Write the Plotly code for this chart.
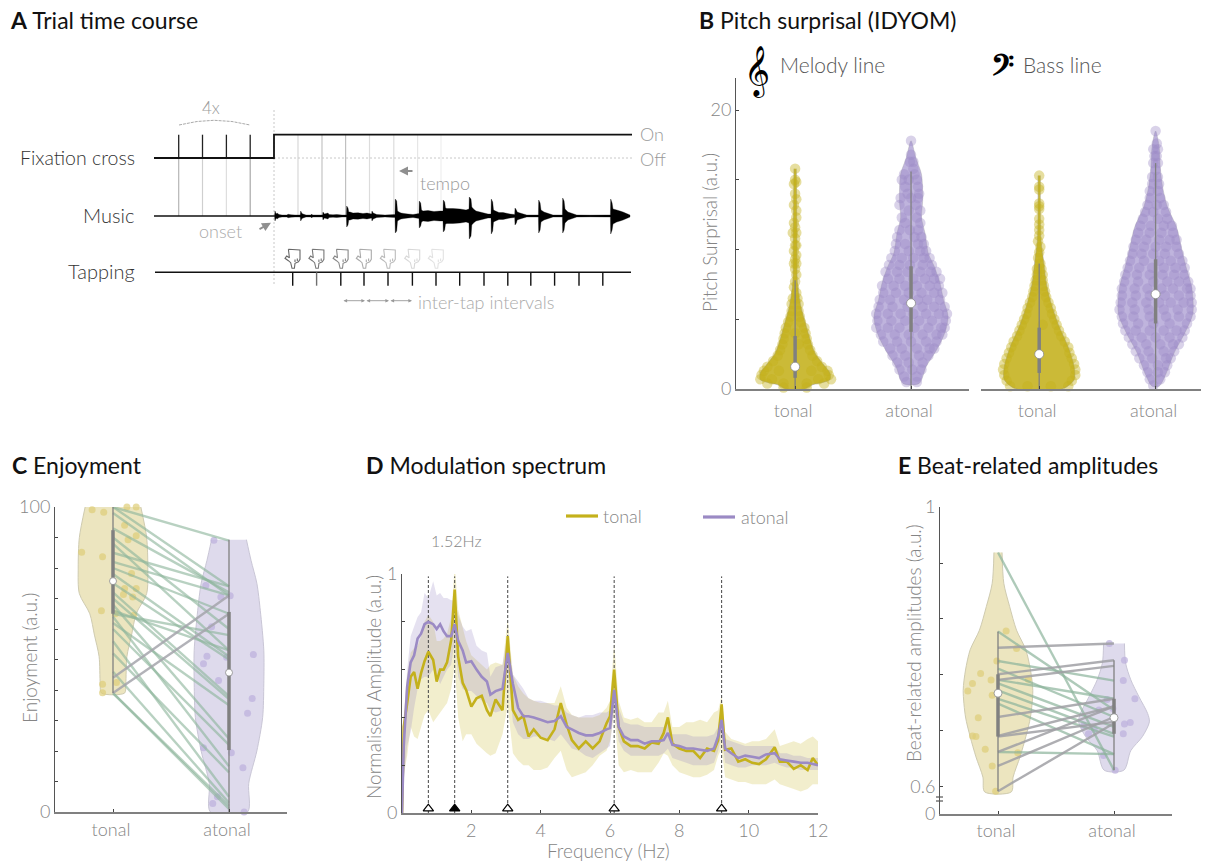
import plotly.graph_objects as go

W, H = 1213, 863
FONT = "Lato"
YEL = "#c4b11b"
PUR = "#9b8ac4"
GRAY = "#858585"
DARK = "#555555"

# ---- Panel A schematic (time on a page-wide scale)
FIX_T = [154, 274, 274, 632]
FIX_Y = [158, 158, 134.7, 134.7]
CUE_T = [178.7, 202.5, 226.4, 250.2]
CUE_COL = ["#b5b5b5", "#cfcfcf", "#dedede", "#a8a8a8"]
AFTER_T = [298, 322, 345.6, 369.5, 393.8, 417.6, 441]
AFTER_COL = ["#d8d8d8", "#c4c4c4", "#c0c0c0", "#dcdcdc", "#dcdcdc", "#e6e6e6", "#eeeeee"]
TAP_T = [292.7, 316.6, 340.8, 364, 388, 412.4, 436, 459.7, 484, 507.8, 530.8, 554.6, 579, 602.8]
HAND_T = [292.7, 316.6, 340.8, 364, 388, 412.4, 436]
HAND_COL = ["#666666", "#777777", "#888888", "#aaaaaa", "#bbbbbb", "#d8d8d8", "#e2e2e2"]
HAND_X = [-4.3, 7.3, 7.3, 5.7, 2.3, 1.7, -.7, -2, -4.3, -7.7, -6, -3.3, -4.3, None, 2.3, 2.3, None, 4.6, 4.6]
HAND_Y = [249.3, 250, 259.3, 261.7, 263.3, 268.3, 268.3, 262.7, 260.7, 258.3, 256, 257.7, 249.3, None, 262, 259.5, None, 261, 258.5]
WAVE_T = [274.6, 275, 276.2, 277, 279, 282, 287, 288, 291, 295, 300.2, 300.7, 302, 303, 306, 311, 311.7, 312.5, 318,
          322.6, 323, 324.4, 328, 329, 333, 336.7, 342, 346.4, 346.7, 348, 348.8, 350, 353, 358, 363, 367, 371.6, 372, 373.2, 376.7, 385,
          395, 395.3, 396.7, 397.5, 399, 401, 404, 408, 413, 419, 419.3, 420.7, 421.5, 423, 428, 434, 440,
          443, 443.3, 444.7, 445.5, 447, 453, 460, 466, 469, 469.3, 471, 471.8, 473.5, 476, 480, 484, 488,
          491, 491.3, 492.7, 493.5, 495.5, 499, 503, 510, 514.7, 515, 516.4, 517.2, 520, 526.7, 534,
          538.4, 538.7, 540.1, 541, 544, 553, 562.4, 562.7, 564.1, 565, 568, 576.7, 590, 606.7,
          610.4, 610.7, 612.1, 613, 616.7, 620, 623, 630]
WAVE_UP = [.8, 5, 2, 3, 1.5, 1, 1, 1.8, 1.2, 1, 1, 5, 2.5, 2, 1, 1, 2, 1, 1,
           1, 4, 2, 3, 1.5, 1.2, 1.5, 1, 1, 10, 8, 4, 4, 3, 3.2, 2.5, 3, 2, 5, 3, 1.5, 1,
           1.5, 17, 15, 5, 4, 3, 2.5, 2, 1.5, 2.5, 15, 13, 6, 5, 5.5, 4.5, 5,
           5, 16, 14, 8, 7.5, 7.5, 7, 6, 7, 19, 17, 9, 7, 5, 4, 3, 2,
           2, 17, 14, 6, 5, 3.5, 3.5, 2, 1.5, 8, 6, 4, 3, 1, 1,
           1, 16, 13, 6, 4, 1, 1, 18, 15, 7, 4, 1, .8, 1,
           1, 17, 13, 7, 6, 5, 4, 1]
WAVE_DN = [.8, 5, 2, 3, 1.5, 1, 1, 1.8, 1.2, 1, 1, 5, 2.5, 2, 1, 1, 2, 1, 1,
           1, 4, 2, 3, 1.5, 1.2, 1.5, 1, 1, 11, 9, 4, 4, 3, 3.2, 2.5, 3, 2, 5, 3, 1.5, 1,
           1.5, 17, 15, 5, 4, 3, 2.5, 2, 1.5, 2.5, 12, 10, 6, 5, 5.5, 4.5, 5,
           5, 16, 14, 8, 7.5, 7.5, 7, 6, 7, 23, 20, 9, 7, 5, 4, 3, 2,
           2, 18, 15, 6, 5, 3.5, 3.5, 2, 1.5, 9, 7, 4, 3, 1, 1,
           1, 17, 14, 6, 4, 1, 1, 17, 14, 7, 4, 1, .8, 1,
           1, 18, 14, 8, 6, 5, 4, 1]

# ---- Panel B: pitch surprisal
CATS = ["tonal", "atonal"]
MEL_TON_BOX = [0, 0.8, 1.6, 3.8, 7.8]
MEL_ATO_BOX = [0, 4.1, 6.15, 8.8, 15.6]
BAS_TON_BOX = [0, 1.15, 2.5, 4.4, 9.0]
BAS_ATO_BOX = [0, 4.7, 6.8, 9.3, 16.2]
MEL_TON_ENV = [(15.8, .01), (11.2, .015), (7.6, .02), (5.9, .05), (4.7, .09), (3.8, .12), (2.6, .17), (1.7, .25), (1.15, .3), (.67, .3), (.3, .15), (0, .08)]
MEL_ATO_ENV = [(17.8, 0), (16.6, .04), (15.4, .09), (13.5, .1), (12.3, .09), (11.2, .12), (9.7, .15), (8.8, .2), (7.6, .25), (6.4, .28), (5.2, .32), (4, .29), (2.8, .22), (1.6, .13), (.4, .07)]
BAS_TON_ENV = [(15.3, .01), (10.7, .015), (9, .04), (7.6, .06), (6.2, .1), (4.5, .17), (3, .25), (1.6, .3), (.67, .3), (0, .2)]
BAS_ATO_ENV = [(18.5, 0), (17.4, .03), (15.9, .04), (14.5, .06), (13.1, .1), (11.6, .18), (10.2, .22), (8.8, .26), (7.3, .31), (5.4, .32), (4, .25), (2.6, .16), (1.1, .09), (.2, .03)]
MEL_TON_PTS = [(15.8, [0]), (15.0, [0]), (14.85, [.01]), (14.7, [-.01]), (14.0, [0]), (13.6, [.01]), (13.2, [-.01]), (12.8, [.01]), (12.3, [.01]),
               (11.9, [-.01]), (11.6, [0]), (11.2, [-.02, .01]), (10.8, [0]), (10.3, [0, .01]), (9.9, [-.01]), (9.6, [.01]), (9.3, [0]), (9.0, [-.01, .01]),
               (8.6, [0]), (8.2, [.01]), (7.7, [0]), (7.3, [-.01]), (6.9, [.01]), (6.5, [-.02, .02]), (6.1, [-.03, .03]), (5.6, [-.03, .03]), (5.2, [-.04, .04]),
               (4.8, [-.06, .05]), (4.4, [-.08, .08]), (4.0, [-.09, 0, .09]), (3.6, [-.1, .1]), (3.2, [-.11, .03, .11]), (2.8, [-.13, .13]), (2.4, [-.15, .15]),
               (2.0, [-.19, .19]), (1.6, [-.24, .23]), (1.3, [-.27, -.14, .14, .28]), (1.0, [-.29, .29]), (.7, [-.3, -.2, .2, .31]), (.4, [-.24, -.1, .1, .25]), (.1, [-.1, .1])]
MEL_ATO_PTS = [(17.8, [0]), (16.8, [0]), (16.3, [-.01, .02]), (15.8, [.02]), (15.4, [-.06, .03]), (15.0, [-.08, -.02, .05]), (14.5, [-.05, .06]), (14.0, [-.03, .07]),
               (13.7, [-.09, 0, .06]), (13.2, [-.1, .04]), (12.8, [-.02, .08]), (12.3, [-.08, .05]), (11.9, [-.05, .08]), (11.4, [-.1, -.01, .06]), (10.9, [-.12, .03, .09]),
               (10.4, [-.13, -.05, .06, .11]), (9.9, [-.14, -.02, .08, .13]), (9.4, [-.17, -.08, .02, .11, .16]), (8.9, [-.19, -.1, -.01, .1, .18]),
               (8.4, [-.22, -.12, -.03, .08, .17, .22]), (7.9, [-.2, -.1, .02, .12, .2, .25]), (7.4, [-.25, -.15, -.05, .05, .16, .24]), (6.9, [-.24, -.13, -.02, .09, .2, .27]),
               (6.4, [-.27, -.18, -.06, .06, .14, .25]), (5.9, [-.28, -.16, -.03, .1, .2, .29]), (5.4, [-.3, -.2, -.09, .02, .13, .24, .31]), (4.9, [-.29, -.17, -.05, .07, .18, .3]),
               (4.4, [-.3, -.2, -.1, .03, .15, .26, .29]), (3.9, [-.26, -.14, -.02, .1, .22, .27]), (3.4, [-.24, -.12, 0, .13, .22]), (2.9, [-.18, -.08, .05, .16, .2]),
               (2.4, [-.16, -.05, .07, .15]), (1.9, [-.12, -.02, .1]), (1.4, [-.1, .01, .09]), (.9, [-.06, .05]), (.5, [-.04, .05])]
BAS_TON_PTS = [(15.3, [0]), (14.5, [0]), (14.3, [0]), (13.3, [0]), (13.1, [0]), (12.9, [0]), (12.2, [0]), (11.8, [0]), (11.4, [0]), (11, [0]), (10.6, [-.01]), (10.2, [.01]),
               (9.8, [0]), (9.4, [-.01]), (9, [.01]), (8.6, [-.02, .02]), (8.2, [-.02, .03]), (7.8, [-.03, .03]), (7.4, [-.04, .04]), (7, [-.05, .05]), (6.6, [-.06, .06]),
               (6.2, [-.08, .08]), (5.8, [-.1, .1]), (5.4, [-.11, .11]), (5, [-.13, .13]), (4.6, [-.15, .03, .15]), (4.2, [-.17, .17]), (3.8, [-.19, .19]), (3.4, [-.22, .22]),
               (3, [-.24, .25]), (2.6, [-.26, .26]), (2.2, [-.28, .28]), (1.8, [-.3, .3]), (1.4, [-.31, .31]), (1, [-.3, .31]), (.6, [-.28, .28]), (.2, [-.25, -.1, .1, .25]),
               (-.1, [-.15, -.05, .1, .2])]
BAS_ATO_PTS = [(18.5, [0]), (17.6, [.01]), (17.2, [-.02, .02]), (16.7, [-.01, .01]), (16.2, [-.02, .02]), (15.7, [0]), (15.2, [-.03, .02]), (14.7, [-.03, .03]), (14.2, [-.05, .02]),
               (13.7, [-.05, .04]), (13.2, [-.07, .01, .07]), (12.7, [-.09, -.02, .09]), (12.2, [-.11, .02, .1]), (11.7, [-.13, -.04, .07, .14]), (11.2, [-.15, -.05, .05, .15]),
               (10.7, [-.17, -.08, .03, .12, .18]), (10.2, [-.19, -.1, 0, .09, .18]), (9.7, [-.2, -.12, -.02, .08, .2]), (9.2, [-.22, -.1, .03, .13, .23]),
               (8.7, [-.24, -.14, -.03, .07, .17, .25]), (8.2, [-.26, -.16, -.05, .06, .16, .25]), (7.7, [-.27, -.15, -.02, .1, .2, .28]), (7.2, [-.29, -.18, -.07, .05, .15, .27, .3]),
               (6.7, [-.29, -.17, -.05, .08, .2, .3]), (6.2, [-.3, -.2, -.08, .03, .13, .24, .31]), (5.7, [-.31, -.18, -.06, .07, .19, .31]), (5.2, [-.29, -.19, -.05, .09, .2, .3]),
               (4.7, [-.28, -.15, -.02, .12, .27]), (4.2, [-.26, -.17, -.05, .07, .18, .25]), (3.7, [-.23, -.12, 0, .12, .23]), (3.2, [-.2, -.08, .04, .15, .2]),
               (2.7, [-.17, -.06, .07, .16]), (2.2, [-.14, -.03, .09, .13]), (1.7, [-.1, .02, .1]), (1.2, [-.07, .02, .08]), (.7, [-.05, .04]), (.25, [-.02])]

# ---- Panel C: enjoyment
ENJ_TON_X = [.82, .92, 1.12, 1.20, 1.10, 1.20, 1.13, .73, .91, 1.16, 1.10, 1.20, 1.09, 1.17, .90, 1.02, 1.18, .91, 1.03, .91]
ENJ_TON_Y = [99.1, 98.3, 100, 100, 94, 90.6, 89.3, 85.2, 83.7, 78.2, 73.3, 73.3, 71.3, 70.5, 66, 65, 64.5, 41.9, 42.5, 39.1]
ENJ_ATO_X = [1.87, 1.80, 1.93, 2.01, 1.85, 1.81, 1.78, 2.21, 1.98, 1.91, 2.20, 2.16, 1.78, 2.02, 2.12, 1.90, 1.86, 2.13]
ENJ_ATO_Y = [89.1, 74.3, 70.5, 70.9, 60.7, 51.1, 48.6, 51.6, 50.7, 43.1, 37.2, 32.4, 21.1, 19.4, 14.5, 5, 2.8, 0]
ENJ_DOWN_T = [100, 100, 98, 93, 90, 88, 85, 82, 80, 78, 75, 72, 70, 68, 66, 65, 64, 62, 60, 56, 52, 46, 39, 39]
ENJ_DOWN_A = [89, 74, 71, 72, 60, 53, 74, 71, 65, 51, 50, 38, 37, 24, 53, 58, 15, 35, 22, 5, 13, 3, 2, 1]
ENJ_UP_T = [44, 39]
ENJ_UP_A = [71, 65]
ENJ_TON_ENV = [(100, .24), (90, .29), (80, .30), (71.6, .29), (65, .2), (58, .16), (51, .12), (42, .11), (39, .10)]
ENJ_ATO_ENV = [(89.3, .15), (82.5, .19), (75, .24), (66, .27), (53, .30), (42, .30), (31, .29), (20, .24), (9.4, .17), (0, .16)]
ENJ_TON_BOX = [39, 65, 75.7, 92.4, 100]
ENJ_ATO_BOX = [0, 20.3, 45.7, 65.6, 89.3]

# ---- Panel D: modulation spectrum
FREQ = [0, .05, .15, .25, .35, .45, .55, .65, .76, .9, 1.0, 1.1, 1.2, 1.3, 1.42, 1.52, 1.62, 1.75, 1.85, 2.0, 2.15, 2.3, 2.45, 2.55, 2.7, 2.9, 3.05, 3.2, 3.35, 3.5,
        3.65, 3.8, 4.0, 4.2, 4.4, 4.58, 4.75, 4.9, 5.1, 5.3, 5.5, 5.7, 5.9, 6.0, 6.12, 6.25, 6.4, 6.6, 6.8, 7.0, 7.2, 7.4, 7.55, 7.67, 7.8, 8.0, 8.2, 8.4, 8.6, 8.8,
        9.0, 9.12, 9.22, 9.32, 9.5, 9.7, 9.9, 10.1, 10.3, 10.5, 10.75, 10.9, 11.1, 11.3, 11.5, 11.7, 11.85, 12]
ATO_M = [0, .28, .53, .63, .66, .73, .75, .79, .80, .79, .77, .79, .76, .74, .74, .79, .72, .68, .63, .635, .60, .57, .55, .495, .51, .52, .67, .54, .44, .405,
         .405, .40, .39, .38, .385, .405, .36, .35, .335, .325, .325, .335, .35, .355, .515, .36, .32, .305, .305, .29, .30, .30, .305, .335, .285, .28, .27, .27, .265, .26,
         .27, .32, .39, .27, .25, .23, .24, .235, .23, .245, .25, .225, .22, .215, .21, .21, .205, .20]
TON_M = [0, .36, .46, .57, .59, .52, .585, .635, .675, .64, .55, .60, .60, .63, .725, .935, .655, .545, .515, .445, .48, .49, .43, .405, .475, .43, .74, .43, .39, .405,
         .32, .35, .315, .305, .35, .46, .37, .305, .27, .30, .27, .30, .375, .405, .60, .36, .30, .28, .28, .27, .295, .29, .335, .40, .29, .27, .26, .26, .23, .27,
         .26, .305, .455, .265, .27, .215, .225, .21, .205, .225, .275, .215, .215, .185, .20, .18, .23, .20]
ATO_U = [0, .40, .60, .74, .78, .82, .84, .92, .90, .97, .91, .92, .90, .90, .89, .89, .83, .78, .76, .77, .70, .68, .67, .57, .61, .62, .75, .58, .55, .52,
         .48, .47, .47, .46, .45, .45, .42, .41, .40, .41, .41, .42, .42, .43, .59, .44, .38, .37, .37, .36, .36, .36, .36, .38, .33, .33, .33, .32, .32, .32,
         .33, .36, .45, .31, .30, .29, .28, .28, .28, .28, .28, .25, .25, .24, .24, .23, .23, .23]
ATO_L = [0, .14, .28, .34, .44, .52, .56, .57, .57, .60, .58, .54, .57, .60, .62, .72, .57, .52, .51, .51, .49, .47, .46, .43, .42, .43, .60, .38, .33, .31,
         .31, .32, .32, .31, .30, .33, .30, .27, .26, .24, .23, .25, .27, .28, .44, .30, .26, .24, .24, .24, .24, .24, .25, .27, .23, .22, .21, .20, .20, .20,
         .21, .26, .33, .21, .20, .19, .19, .20, .20, .20, .21, .20, .19, .19, .18, .18, .18, .18]
TON_U = [0, .40, .58, .67, .69, .70, .74, .80, .83, .80, .72, .72, .73, .75, .82, 1.04, .85, .78, .72, .66, .64, .62, .60, .62, .63, .62, .81, .58, .53, .50,
         .48, .47, .46, .46, .46, .53, .44, .41, .40, .40, .40, .41, .44, .47, .71, .47, .40, .39, .40, .38, .38, .42, .42, .47, .36, .36, .38, .38, .39, .38,
         .42, .43, .49, .34, .31, .30, .29, .30, .30, .31, .35, .28, .29, .30, .29, .31, .32, .30]
TON_L = [0, .16, .24, .36, .32, .31, .36, .41, .43, .38, .40, .42, .44, .46, .52, .62, .40, .30, .33, .33, .29, .27, .25, .24, .25, .33, .45, .25, .22, .20,
         .20, .18, .18, .19, .23, .26, .18, .15, .16, .17, .20, .24, .26, .30, .42, .20, .17, .18, .17, .17, .17, .21, .25, .24, .20, .17, .16, .15, .15, .16,
         .18, .24, .27, .15, .14, .13, .13, .12, .12, .12, .14, .12, .11, .10, .09, .10, .12, .12]
BEAT_F = [.76, 1.52, 3.05, 6.12, 9.22]
BEAT_FILL = ["white", "black", "white", "white", "white"]

# ---- Panel E: beat-related amplitudes
BR_TON_X = [1.07, 1.16, .99, .85, .78, .94, 1.26, .74, .95, .83, .78, .81, .89, 1.17, .95, .98]
BR_TON_Y = [.823, .798, .780, .762, .748, .753, .754, .737, .731, .699, .673, .672, .654, .649, .630, .594]
BR_ATO_X = [1.96, 2.09, 2.08, 1.94, 2.18, 1.87, 1.99, 1.74, 2.09, 2.14, 2.08, 1.78, 1.83, 1.91, 2.01]
BR_ATO_Y = [.805, .781, .752, .725, .726, .710, .712, .688, .690, .692, .676, .676, .682, .645, .624]
BR_DOWN_T = [.935, .822, .780, .769, .753, .748, .738, .726, .719, .650]
BR_DOWN_A = [.624, .710, .752, .700, .726, .686, .676, .672, .647, .647]
BR_UP_T = [.799, .761, .753, .700, .672, .673, .650, .630, .594]
BR_UP_A = [.805, .781, .773, .726, .693, .715, .715, .700, .691]
BR_TON_ENV = [(.935, .035), (.891, .05), (.858, .10), (.824, .16), (.796, .24), (.767, .28), (.738, .30), (.700, .28), (.672, .24), (.643, .19), (.614, .13), (.593, .115)]
BR_ATO_ENV = [(.805, .09), (.777, .10), (.753, .145), (.729, .215), (.705, .29), (.693, .305), (.672, .245), (.652, .145), (.624, .085)]
BR_TON_BOX = [.594, .672, .734, .761, .822]
BR_ATO_BOX = [.624, .676, .699, .726, .781]
BR_ZERO = 0.5614


def dom_x(a, b):
    return [a / W, b / W]


def dom_y(top, bot):
    return [1 - bot / H, 1 - top / H]


fig = go.Figure()


def line(x, y, color, width=1, dash=None, ax=("x", "y")):
    fig.add_trace(go.Scatter(x=x, y=y, mode="lines", xaxis=ax[0], yaxis=ax[1], cliponaxis=False, hoverinfo="skip",
                             line=dict(color=color, width=width, dash=dash, simplify=False)))


def violin(center, env, fill, edge, ax):
    xs = [center - hw for _, hw in env] + [center + hw for _, hw in reversed(env)]
    ys = [v for v, _ in env] + [v for v, _ in reversed(env)]
    fig.add_trace(go.Scatter(x=xs, y=ys, mode="lines", fill="toself", fillcolor=fill, xaxis=ax[0], yaxis=ax[1], cliponaxis=False,
                             hoverinfo="skip", line=dict(color=edge, width=1, shape="spline", smoothing=0.8)))


def dots(x, y, color, size, ax):
    fig.add_trace(go.Scatter(x=x, y=y, mode="markers", xaxis=ax[0], yaxis=ax[1], cliponaxis=False, hoverinfo="skip",
                             marker=dict(color=color, size=size, line=dict(width=0))))


def swarm(center, rows, color, size, ax):
    xs, ys = [], []
    for v, offs in rows:
        for o in offs:
            xs.append(center + o)
            ys.append(v)
    dots(xs, ys, color, size, ax)


def box(center, stats, ax, dot=11, thick=5):
    lo, q1, med, q3, hi = stats
    line([center, center], [lo, hi], "#808080", 1.3, ax=ax)
    line([center, center], [q1, q3], "#808080", thick, ax=ax)
    fig.add_trace(go.Scatter(x=[center], y=[med], mode="markers", xaxis=ax[0], yaxis=ax[1], cliponaxis=False, hoverinfo="skip",
                             marker=dict(color="white", size=dot, line=dict(color="#8a8a8a", width=0.8))))


def pairs(t, a, color, ax, width=2.4):
    for p, q in zip(t, a):
        line([1, 2], [p, q], color, width, ax=ax)


# ---------- Panel A ----------
for t, c in zip(CUE_T, CUE_COL):
    line([t, t], [158, 216], c, 1.2)
    line([t, t], [134.7, 158], "#222222", 1.3)
for t, c in zip(AFTER_T, AFTER_COL):
    line([t, t], [134.7, 216], c, 1.2)
line([274, 274], [110, 286], "#c8c8c8", 1, "2px,2px")
line([274, 632], [158, 158], "#c8c8c8", 1, "2px,2px")
line(FIX_T, FIX_Y, "#111111", 1.8)
line([154, 630], [216, 216], "#111111", 1.3)
line([155, 631], [272.3, 272.3], "#111111", 1.6)
for t in TAP_T:
    line([t, t], [272.3, 285.7], "#6f6f6f" if t == TAP_T[1] else "#111111", 1.4)
fig.add_trace(go.Scatter(x=WAVE_T + WAVE_T[::-1], y=WAVE_UP + [-d for d in WAVE_DN[::-1]], mode="lines", fill="toself", fillcolor="#000000",
                         line=dict(color="#000000", width=0.3, simplify=False), xaxis="x", yaxis="y7", hoverinfo="skip"))
line([179, 197, 214, 232, 250], [125, 121.5, 120.3, 121.5, 125], "#aaaaaa", 1, "3px,1px")
for t, c in zip(HAND_T, HAND_COL):
    line([None if d is None else t + d for d in HAND_X], HAND_Y, c, 1.1)

# ---------- Panel B ----------
B1 = ("x2", "y2")
B2 = ("x3", "y3")
PUR_F = "rgba(170,155,210,0.75)"
PUR_D = "rgba(155,138,196,0.38)"
YEL_D = "rgba(196,177,27,0.42)"
YEL_F = "rgba(196,177,27,0.88)"
violin(1, MEL_TON_ENV, YEL_F, "rgba(150,150,150,.5)", B1)
violin(2, MEL_ATO_ENV, PUR_F, "rgba(150,150,150,.3)", B1)
violin(1, BAS_TON_ENV, YEL_F, "rgba(150,150,150,.5)", B2)
violin(2, BAS_ATO_ENV, PUR_F, "rgba(150,150,150,.3)", B2)
swarm(1, MEL_TON_PTS, YEL_D, 10.5, B1)
swarm(2, MEL_ATO_PTS, PUR_D, 10.5, B1)
swarm(1, BAS_TON_PTS, YEL_D, 10.5, B2)
swarm(2, BAS_ATO_PTS, PUR_D, 10.5, B2)
box(1, MEL_TON_BOX, B1, 9, 3.5)
box(2, MEL_ATO_BOX, B1, 9, 3.5)
box(1, BAS_TON_BOX, B2, 9, 3.5)
box(2, BAS_ATO_BOX, B2, 9, 3.5)

# ---------- Panel C ----------
C = ("x4", "y4")
violin(1, ENJ_TON_ENV, "#ece5bf", "#cfcbb0", C)
violin(2, ENJ_ATO_ENV, "#dedaec", "#c9c6d6", C)
dots(ENJ_TON_X, ENJ_TON_Y, "rgba(222,205,120,.7)", 7, C)
dots(ENJ_ATO_X, ENJ_ATO_Y, "rgba(190,178,222,.75)", 7, C)
pairs(ENJ_DOWN_T, ENJ_DOWN_A, "rgba(140,180,155,.62)", C)
pairs(ENJ_UP_T, ENJ_UP_A, "rgba(165,165,172,.85)", C)
box(1, ENJ_TON_BOX, C, 7, 3.5)
box(2, ENJ_ATO_BOX, C, 7, 3.5)

# ---------- Panel D ----------
D = ("x5", "y5")
for up, lo, col in ((TON_U, TON_L, "rgba(196,177,27,.22)"), (ATO_U, ATO_L, "rgba(150,135,195,.25)")):
    fig.add_trace(go.Scatter(x=FREQ + FREQ[::-1], y=up + lo[::-1], mode="lines", fill="toself", fillcolor=col, line=dict(width=0),
                             xaxis="x5", yaxis="y5", cliponaxis=False, hoverinfo="skip"))
for f in BEAT_F:
    line([f, f], [0, .99], "#444444", 1, "3px,2px", ax=D)
line(FREQ, TON_M, YEL, 2.6, ax=D)
line(FREQ, ATO_M, PUR, 2.6, ax=D)
fig.add_trace(go.Scatter(x=BEAT_F, y=[0.018] * 5, mode="markers", xaxis="x5", yaxis="y5", cliponaxis=False, hoverinfo="skip",
                         marker=dict(symbol="triangle-up", color=BEAT_FILL, size=9, line=dict(color="black", width=1.2))))

# ---------- Panel E ----------
E = ("x6", "y6")
violin(1, BR_TON_ENV, "#ece5bf", "#cfcbb0", E)
violin(2, BR_ATO_ENV, "#dedaec", "#c9c6d6", E)
dots(BR_TON_X, BR_TON_Y, "rgba(222,205,120,.7)", 7, E)
dots(BR_ATO_X, BR_ATO_Y, "rgba(190,178,222,.75)", 7, E)
pairs(BR_DOWN_T, BR_DOWN_A, "rgba(140,180,155,.7)", E)
pairs(BR_UP_T, BR_UP_A, "rgba(160,160,165,.85)", E)
box(1, BR_TON_BOX, E, 8, 3.5)
box(2, BR_ATO_BOX, E, 8, 3.5)
# axis break marks on a page-wide scale
line([940, 940], [796.5, 802.5], "white", 3)
line([936, 943], [797, 797], "#333333", 1)
line([936, 943], [801, 801], "#333333", 1)

TICK = dict(family=FONT, size=18, color=GRAY, weight=300)


def cat_x(dom, rng, standoff=4):
    return dict(domain=dom, range=rng, tickvals=[1, 2], ticktext=CATS, ticks="inside", ticklen=3, tickcolor="#444444",
                showline=True, linecolor="#808080", linewidth=1.6, showgrid=False, zeroline=False,
                tickfont=TICK, ticklabelstandoff=standoff, ticklabelshift=-2)


hidden = dict(visible=False, showgrid=False, zeroline=False)
layout = dict(
    width=W, height=H, margin=dict(l=0, r=0, t=0, b=0, autoexpand=False), showlegend=False,
    paper_bgcolor="white", plot_bgcolor="rgba(0,0,0,0)", font=dict(family=FONT),
    xaxis=dict(domain=[0, 1], range=[0, W], **hidden),
    yaxis=dict(domain=[0, 1], range=[H, 0], **hidden),
    xaxis2=dict(anchor="y2", **cat_x(dom_x(736, 969), [.49, 2.5], 5)),
    yaxis2=dict(anchor="x2", domain=dom_y(78, 389), range=[0, 22.3], tickvals=[0, 5, 10, 15, 20], ticktext=["0", "", "", "", "20"],
                ticks="inside", ticklen=3, tickcolor="#444444", showline=True, linecolor=DARK, linewidth=1, showgrid=False, zeroline=False,
                tickfont=TICK),
    xaxis3=dict(anchor="y3", **cat_x(dom_x(981, 1201), [.5, 2.39], 5)),
    yaxis3=dict(anchor="x3", domain=dom_y(78, 389), range=[0, 22.3], **hidden),
    xaxis4=dict(anchor="y4", **cat_x(dom_x(55, 287), [.5, 2.5], 1)),
    yaxis4=dict(anchor="x4", domain=dom_y(507, 812), range=[0, 100], tickvals=list(range(0, 101, 10)),
                ticktext=["0"] + [""] * 9 + ["100"], ticks="inside", ticklen=3, tickcolor="#444444", showline=True, linecolor=DARK, linewidth=1,
                showgrid=False, zeroline=False, tickfont=TICK),
    xaxis5=dict(anchor="y5", domain=dom_x(402, 818), range=[0, 12], tickvals=[2, 4, 6, 8, 10, 12], ticks="inside", ticklen=3, tickcolor="#444444",
                showline=True, linecolor="#808080", linewidth=1.6, showgrid=False, zeroline=False, tickfont=TICK, ticklabelstandoff=1),
    yaxis5=dict(anchor="x5", domain=dom_y(574, 813), range=[0, 1], tickvals=[0, .2, .4, .6, .8, 1], ticktext=["0", "", "", "", "", "1"], ticks="inside", ticklen=3,
                tickcolor="#444444", showline=True, linecolor=DARK, linewidth=1, showgrid=False, zeroline=False, tickfont=TICK),
    xaxis6=dict(anchor="y6", **cat_x(dom_x(940, 1172), [.5, 2.5], 0)),
    yaxis6=dict(anchor="x6", domain=dom_y(507, 814), range=[BR_ZERO, 1], tickvals=[BR_ZERO, .6, .68, .76, .84, .92, 1],
                ticktext=["0", "0.6", "", "", "", "", "1"], ticks="inside", ticklen=3, tickcolor="#444444", showline=True, linecolor=DARK, linewidth=1,
                showgrid=False, zeroline=False, tickfont=TICK),
    yaxis7=dict(anchor="x", domain=dom_y(186, 246), range=[-30, 30], **hidden),
)
fig.update_layout(**layout)


def txt(x, y, s, size=17, color=GRAY, anchor="center", angle=0, weight=300):
    fig.add_annotation(x=x / W, y=1 - y / H, xref="paper", yref="paper", text=s, showarrow=False, xanchor=anchor, yanchor="middle",
                       textangle=angle, font=dict(family=FONT, size=size, color=color, weight=weight))


TITLE = 23
txt(8, 20, "<b>A</b> Trial time course", TITLE, "#111111", "left", weight=400)
txt(697, 20, "<b>B</b> Pitch surprisal (IDYOM)", TITLE, "#111111", "left", weight=400)
txt(10, 465, "<b>C</b> Enjoyment", TITLE, "#111111", "left", weight=400)
txt(364, 465, "<b>D</b> Modulation spectrum", TITLE, "#111111", "left", weight=400)
txt(896, 465, "<b>E</b> Beat-related amplitudes", TITLE, "#111111", "left", weight=400)
txt(137, 157, "Fixation cross", 19.5, "#333333", "right")
txt(136, 215, "Music", 20, "#333333", "right")
txt(137, 271, "Tapping", 20, "#333333", "right")
txt(638, 134, "On", 18, "#9a9a9a", "left")
txt(638, 159, "Off", 18, "#9a9a9a", "left")
txt(211, 107, "4x", 17, "#9a9a9a")
txt(444.5, 183, "tempo", 18, "#9a9a9a")
txt(221, 231, "onset", 18, "#aaaaaa")
txt(415.6, 302, "inter-tap intervals", 18, "#aaaaaa", "left")
for (x0, y0, x1, y1) in [(414, 171, 399, 171), (258, 230, 271, 222.7)]:
    fig.add_annotation(x=x1, y=y1, ax=x0, ay=y0, xref="x", yref="y", axref="x", ayref="y", text="", showarrow=True,
                       arrowhead=2, arrowsize=1, arrowwidth=1.8, arrowcolor="#8f8f8f")
for (x0, x1) in [(342, 365), (365, 389), (389, 412)]:
    fig.add_annotation(x=x1, y=300.7, ax=x0, ay=300.7, xref="x", yref="y", axref="x", ayref="y", text="", showarrow=True,
                       arrowhead=2, arrowside="end+start", arrowsize=.8, arrowwidth=.9, arrowcolor="#999999")

txt(709, 233, "Pitch Surprisal (a.u.)", 19, GRAY, angle=-90)
txt(29, 658, "Enjoyment (a.u.)", 19, GRAY, angle=-90)
txt(373, 687, "Normalised Amplitude (a.u.)", 19, GRAY, angle=-90)
txt(913, 643, "Beat-related amplitudes (a.u.)", 19, GRAY, angle=-90)
txt(608, 850, "Frequency (Hz)", 19, GRAY)
txt(456, 540, "1.52Hz", 16, GRAY)
txt(601, 516, "tonal", 18, GRAY, "left")
txt(739, 517, "atonal", 18, GRAY, "left")
line([566, 598], [516, 516], YEL, 3.2)
line([703, 735], [517, 517], PUR, 3.2)
txt(778, 64, "Melody line", 21, "#555555", "left")
txt(1021, 64, "Bass line", 21, "#555555", "left")
txt(757, 70, "\U0001D11E", 44, "#000000", weight=400)
txt(1002, 67, "\U0001D122", 36, "#000000", weight=700)

fig.write_html("out.html", post_script="document.body.style.margin='0';", config=dict(displayModeBar=False))
